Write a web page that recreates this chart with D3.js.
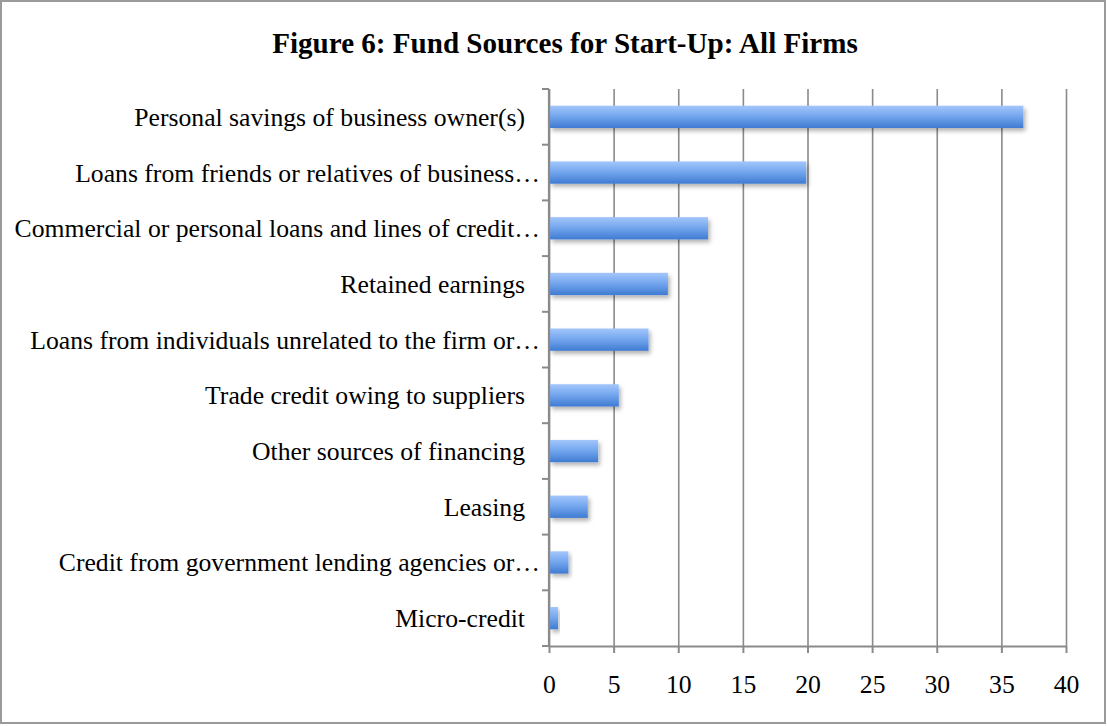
<!DOCTYPE html>
<html><head><meta charset="utf-8">
<script src="https://cdn.jsdelivr.net/npm/d3@7/dist/d3.min.js"></script>
<style>body{margin:0;background:#fff}</style></head>
<body><svg id="c" width="1107" height="726"></svg>
<script>
const titleText = "Figure 6: Fund Sources for Start-Up: All Firms";
const categories = [
  "Personal savings of business owner(s)",
  "Loans from friends or relatives of business…",
  "Commercial or personal loans and lines of credit…",
  "Retained earnings",
  "Loans from individuals unrelated to the firm or…",
  "Trade credit owing to suppliers",
  "Other sources of financing",
  "Leasing",
  "Credit from government lending agencies or…",
  "Micro-credit"
];
const values = [36.7, 19.9, 12.3, 9.2, 7.7, 5.4, 3.8, 3.0, 1.5, 0.7];
const tickValues = [0, 5, 10, 15, 20, 25, 30, 35, 40];

const svg = d3.select("#c");
const FONT = "'Liberation Serif', 'DejaVu Serif', serif";
const grey = "#8a8a8a";

// frame
svg.append("rect").attr("x", 1).attr("y", 1).attr("width", 1104).attr("height", 722)
  .attr("fill", "#fff").attr("stroke", "#9a9a9a").attr("stroke-width", 2);

const defs = svg.append("defs");
const grad = defs.append("linearGradient").attr("id", "bg").attr("x1", 0).attr("y1", 0).attr("x2", 0).attr("y2", 1);
grad.append("stop").attr("offset", "0%").attr("stop-color", "#a3c6fb");
grad.append("stop").attr("offset", "45%").attr("stop-color", "#76a8ef");
grad.append("stop").attr("offset", "100%").attr("stop-color", "#3f7bd2");
const f = defs.append("filter").attr("id", "sh").attr("x", "-10%").attr("y", "-30%").attr("width", "130%").attr("height", "190%");
f.append("feDropShadow").attr("dx", 2).attr("dy", 3).attr("stdDeviation", 2)
  .attr("flood-color", "#000").attr("flood-opacity", 0.3);

const x = d3.scaleLinear().domain([0, 40]).range([549, 1066]);
const y = d3.scaleBand().domain(categories).range([89, 646]).paddingInner(0.6).paddingOuter(0.3);

// gridlines
const grid = svg.append("g").attr("transform", "translate(0,646)")
  .call(d3.axisBottom(x).tickValues(tickValues).tickSize(-(646 - 89)).tickFormat(""));
grid.select(".domain").remove();
grid.selectAll("line").attr("stroke", grey).attr("stroke-width", 1.6);

// bars
svg.append("g").selectAll("rect").data(values).join("rect")
  .attr("x", x(0) + 1)
  .attr("y", (d, i) => y(categories[i]))
  .attr("width", d => x(d) - x(0) - 1)
  .attr("height", y.bandwidth())
  .attr("fill", "url(#bg)")
  .attr("filter", "url(#sh)");

// x axis
const xa = svg.append("g").attr("transform", "translate(0,646)")
  .call(d3.axisBottom(x).tickValues(tickValues).tickSize(7).tickPadding(22).tickSizeOuter(0));
xa.select(".domain").attr("stroke", grey).attr("stroke-width", 2.2);
xa.selectAll("line").attr("stroke", grey).attr("stroke-width", 2);
xa.selectAll("text").attr("font-family", FONT).attr("font-size", 20).attr("fill", "#000");

// y axis line + ticks at band boundaries
const step = y.step();
const bounds = categories.map(c => y(c) - (step - y.bandwidth()) / 2).concat([646]);
svg.append("line").attr("x1", x(0)).attr("x2", x(0)).attr("y1", 89).attr("y2", 646)
  .attr("stroke", grey).attr("stroke-width", 2.2);
svg.append("g").selectAll("line").data(bounds).join("line")
  .attr("x1", x(0) - 7).attr("x2", x(0)).attr("y1", d => d).attr("y2", d => d)
  .attr("stroke", grey).attr("stroke-width", 2);

// category labels
const labels = svg.append("g").selectAll("text").data(categories).join("text")
  .attr("x", d => d.endsWith("…") ? 540 : 525)
  .attr("y", d => y(d) + y.bandwidth() / 2)
  .attr("dy", "0.35em")
  .attr("text-anchor", "end")
  .attr("font-family", FONT).attr("font-size", 20).attr("fill", "#000")
  .text(d => d);
const w0 = labels.filter((d, i) => i === 0).node().getComputedTextLength();
const ls = 20 * 391 / w0;
labels.attr("font-size", ls);
xa.selectAll("text").attr("font-size", ls);

// title
const t = svg.append("text").attr("x", 565).attr("y", 53).attr("text-anchor", "middle")
  .attr("font-family", FONT).attr("font-weight", "bold").attr("font-size", 28).attr("fill", "#000")
  .text(titleText);
const tw = t.node().getComputedTextLength();
t.attr("font-size", 28 * 586 / tw);
</script></body></html>
